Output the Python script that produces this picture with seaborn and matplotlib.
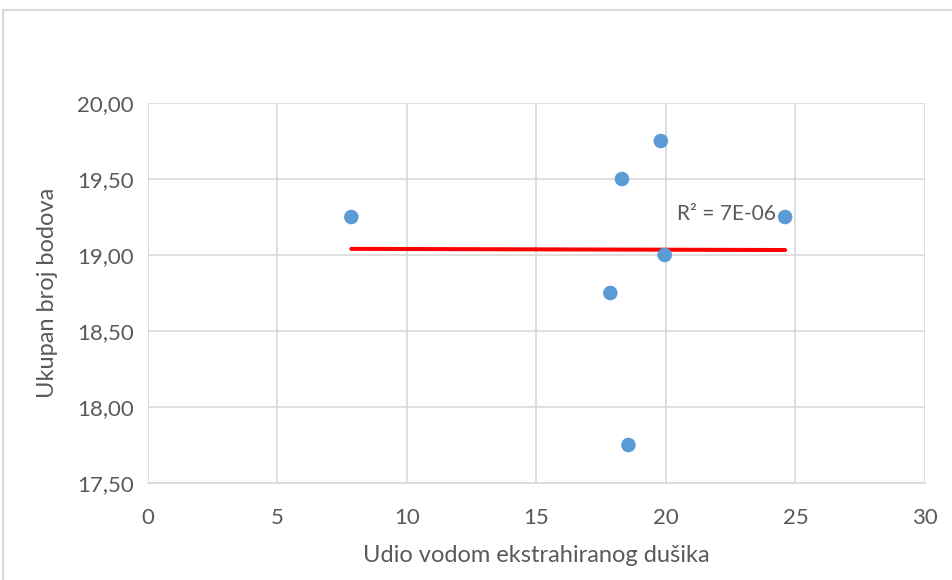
import numpy as np
import pandas as pd
import matplotlib.pyplot as plt
import seaborn as sns
from matplotlib.lines import Line2D

# values
udio_n = [7.85, 18.3, 19.8, 19.95, 17.85, 18.55, 24.6]
bodovi = [19.25, 19.5, 19.75, 19.0, 18.75, 17.75, 19.25]
x_ticks = [0, 5, 10, 15, 20, 25, 30]
y_ticks = [17.5, 18.0, 18.5, 19.0, 19.5, 20.0]
r2_label = "R² = 7E-06"

df = pd.DataFrame({"x": udio_n, "y": bodovi})

sns.set_style("white")
plt.rcParams["font.family"] = ["Lato", "DejaVu Sans"]

fig = plt.figure(figsize=(9.53, 5.80), dpi=100)
ax = fig.add_axes([148 / 953, 1 - 483 / 580, 777 / 953, 380 / 580])

grid_c = "#d9d9d9"
text_c = "#595959"

# linear trendline from the data
slope, icpt = np.polyfit(df["x"], df["y"], 1)
xs = np.array([df["x"].min(), df["x"].max()])
sns.lineplot(x=xs, y=slope * xs + icpt, ax=ax, color="#ff0000", linewidth=2.9, zorder=2)

sns.scatterplot(data=df, x="x", y="y", ax=ax, color="#5b9bd5", s=110,
                edgecolor="none", zorder=3)

ax.text(24.25, 19.27, r2_label, ha="right", va="center", fontsize=15, color=text_c)

ax.set_xlim(0, 30)
ax.set_ylim(17.5, 20.0)
ax.set_xticks(x_ticks)
ax.set_yticks(y_ticks)
ax.set_yticklabels([f"{v:.2f}".replace(".", ",") for v in y_ticks])
ax.grid(True, color=grid_c, linewidth=1.2)
ax.set_axisbelow(True)
for s in ax.spines.values():
    s.set_visible(False)
ax.spines["bottom"].set_visible(True)
ax.spines["bottom"].set_color(grid_c)
ax.spines["bottom"].set_linewidth(1.2)
ax.tick_params(axis="both", length=0, labelsize=16, labelcolor=text_c)
ax.tick_params(axis="x", pad=18)
ax.tick_params(axis="y", pad=10)

ax.set_xlabel("Udio vodom ekstrahiranog dušika", fontsize=17, color=text_c, labelpad=12)
ax.set_ylabel("Ukupan broj bodova", fontsize=17, color=text_c, labelpad=14)

# chart area border (only top and left edges are inside the picture)
fig.add_artist(Line2D([3 / 953, 3 / 953], [0, 1 - 10 / 580], transform=fig.transFigure,
                      color=grid_c, linewidth=1.5))
fig.add_artist(Line2D([3 / 953, 1], [1 - 10 / 580, 1 - 10 / 580], transform=fig.transFigure,
                      color=grid_c, linewidth=1.5))

fig.savefig("out.png", dpi=100)
